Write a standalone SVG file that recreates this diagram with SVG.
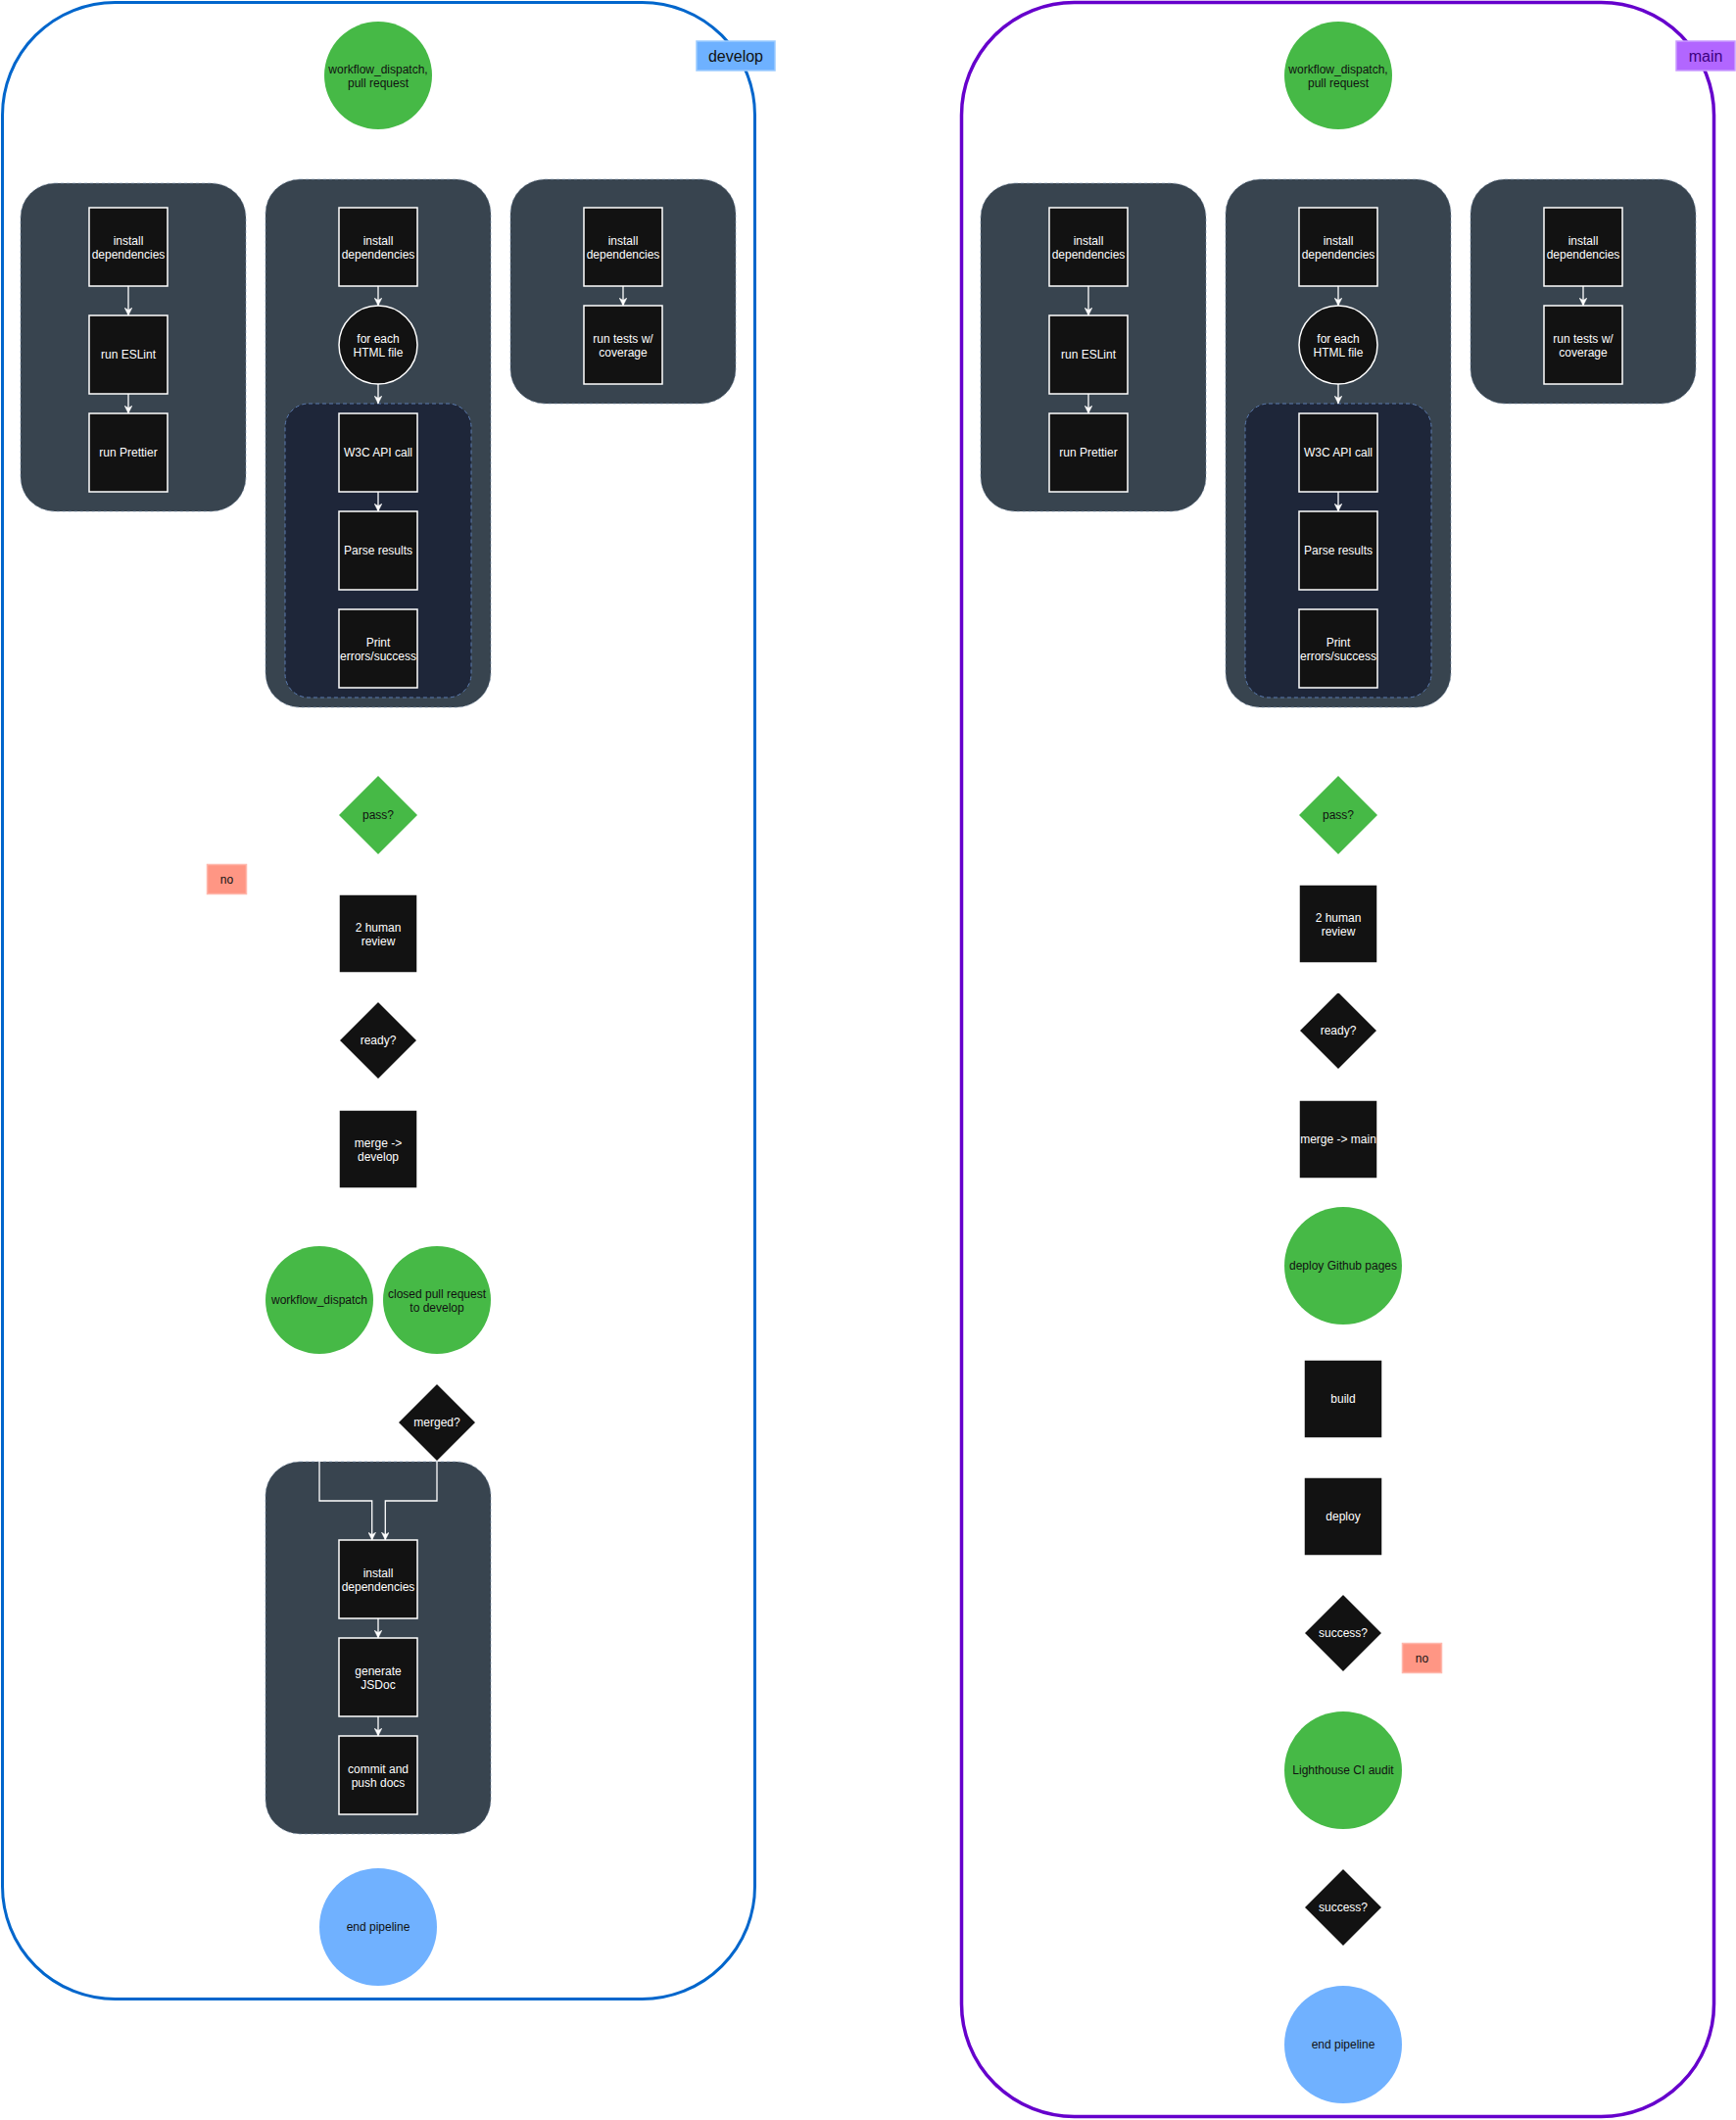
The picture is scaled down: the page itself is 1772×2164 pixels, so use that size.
<svg xmlns="http://www.w3.org/2000/svg" width="1772" height="2164" viewBox="0 0 1772 2164">
<style>
text{font-family:"Liberation Sans",Arial,Helvetica,sans-serif;font-size:12px;text-anchor:middle}
.tw{fill:#ffffff}
.tb{fill:#111111}
.box{fill:#121212;stroke:#ffffff;stroke-width:1.5}
.grp{fill:#38444F;stroke:#7d93ad;stroke-opacity:0.6;stroke-width:1;stroke-dasharray:3 3}
.inner{fill:#1E2639;stroke:#5b7bb0;stroke-width:1;stroke-dasharray:4 3}
.green{fill:#46B946}
.blue{fill:#70B1FF}
.no{fill:#FF9684;stroke:#FFB8AD;stroke-width:1.5}
.edge{fill:none;stroke:#ffffff;stroke-width:1.3;marker-end:url(#arr)}
.lbl{font-size:16px}
</style>
<defs>
<marker id="arr" viewBox="0 0 10 10" refX="10" refY="5" markerWidth="8" markerHeight="8" markerUnits="userSpaceOnUse" orient="auto">
<path d="M0,0 L10,5 L0,10 L3,5 z" fill="#ffffff" stroke="#ffffff" stroke-width="0.5"/>
</marker>
</defs>
<rect width="1772" height="2164" fill="#ffffff"/>

<!-- ===== DEVELOP ===== -->
<g id="develop-container">
<rect x="2.5" y="2.5" width="768" height="2038" rx="115" ry="115" fill="none" stroke="#0066CC" stroke-width="3"/>
</g>

<g id="dev-start">
<circle cx="386" cy="77" r="55" class="green"/>
<text class="tb" x="386" y="74.5">workflow_dispatch,</text>
<text class="tb" x="386" y="89">pull request</text>
</g>

<g id="dev-lint-group">
<rect x="21" y="187" width="230" height="335" rx="35" class="grp"/>
</g>
<g id="dev-lint-install"><rect x="91" y="212" width="80" height="80" class="box"/><text class="tw" x="131" y="249.5">install</text><text class="tw" x="131" y="264">dependencies</text></g>
<g id="dev-lint-eslint"><rect x="91" y="322" width="80" height="80" class="box"/><text class="tw" x="131" y="366">run ESLint</text></g>
<g id="dev-lint-prettier"><rect x="91" y="422" width="80" height="80" class="box"/><text class="tw" x="131" y="466">run Prettier</text></g>

<g id="dev-html-group">
<rect x="271" y="183" width="230" height="539" rx="35" class="grp"/>
</g>
<g id="dev-html-install"><rect x="346" y="212" width="80" height="80" class="box"/><text class="tw" x="386" y="249.5">install</text><text class="tw" x="386" y="264">dependencies</text></g>
<g id="dev-html-foreach"><circle cx="386" cy="352" r="40" class="box"/><text class="tw" x="386" y="349.5">for each</text><text class="tw" x="386" y="364">HTML file</text></g>
<g id="dev-html-loop"><rect x="291" y="412" width="190" height="300" rx="24" class="inner"/></g>
<g id="dev-html-w3c"><rect x="346" y="422" width="80" height="80" class="box"/><text class="tw" x="386" y="466">W3C API call</text></g>
<g id="dev-html-parse"><rect x="346" y="522" width="80" height="80" class="box"/><text class="tw" x="386" y="566">Parse results</text></g>
<g id="dev-html-print"><rect x="346" y="622" width="80" height="80" class="box"/><text class="tw" x="386" y="659.5">Print</text><text class="tw" x="386" y="674">errors/success</text></g>

<g id="dev-test-group">
<rect x="521" y="183" width="230" height="229" rx="35" class="grp"/>
</g>
<g id="dev-test-install"><rect x="596" y="212" width="80" height="80" class="box"/><text class="tw" x="636" y="249.5">install</text><text class="tw" x="636" y="264">dependencies</text></g>
<g id="dev-test-run"><rect x="596" y="312" width="80" height="80" class="box"/><text class="tw" x="636" y="349.5">run tests w/</text><text class="tw" x="636" y="364">coverage</text></g>

<g id="dev-pass"><polygon points="386,792 426,832 386,872 346,832" class="green"/><text class="tb" x="386" y="836">pass?</text></g>
<g id="dev-no"><rect x="211.5" y="882.5" width="40" height="30" class="no"/><text class="tb" x="231.5" y="901.5">no</text></g>
<g id="dev-review"><rect x="346" y="913" width="80" height="80" class="box"/><text class="tw" x="386" y="950.5">2 human</text><text class="tw" x="386" y="965">review</text></g>
<g id="dev-ready"><polygon points="386,1022 426,1062 386,1102 346,1062" class="box"/><text class="tw" x="386" y="1066">ready?</text></g>
<g id="dev-merge"><rect x="346" y="1133" width="80" height="80" class="box"/><text class="tw" x="386" y="1170.5">merge -&gt;</text><text class="tw" x="386" y="1185">develop</text></g>

<g id="dev-wd"><circle cx="326" cy="1327" r="55" class="green"/><text class="tb" x="326" y="1331">workflow_dispatch</text></g>
<g id="dev-closed"><circle cx="446" cy="1327" r="55" class="green"/><text class="tb" x="446" y="1324.5">closed pull request</text><text class="tb" x="446" y="1339">to develop</text></g>
<g id="dev-merged"><polygon points="446,1412 486,1452 446,1492 406,1452" class="box"/><text class="tw" x="446" y="1456">merged?</text></g>

<g id="dev-docs-group">
<rect x="271" y="1492" width="230" height="380" rx="35" class="grp"/>
</g>
<g id="dev-docs-install"><rect x="346" y="1572" width="80" height="80" class="box"/><text class="tw" x="386" y="1609.5">install</text><text class="tw" x="386" y="1624">dependencies</text></g>
<g id="dev-docs-jsdoc"><rect x="346" y="1672" width="80" height="80" class="box"/><text class="tw" x="386" y="1709.5">generate</text><text class="tw" x="386" y="1724">JSDoc</text></g>
<g id="dev-docs-push"><rect x="346" y="1772" width="80" height="80" class="box"/><text class="tw" x="386" y="1809.5">commit and</text><text class="tw" x="386" y="1824">push docs</text></g>

<g id="dev-end"><circle cx="386" cy="1967" r="60" class="blue"/><text class="tb" x="386" y="1971">end pipeline</text></g>

<g id="dev-label"><rect x="711" y="42" width="80" height="30" fill="#6EB1FF" stroke="#9CCBFF" stroke-width="1.5"/><text class="tb lbl" x="751" y="63">develop</text></g>

<!-- ===== MAIN ===== -->
<g id="main-container">
<rect x="981.5" y="2.5" width="768" height="2158" rx="115" ry="115" fill="none" stroke="#6600CC" stroke-width="3.5"/>
</g>

<g id="main-start">
<circle cx="1366" cy="77" r="55" class="green"/>
<text class="tb" x="1366" y="74.5">workflow_dispatch,</text>
<text class="tb" x="1366" y="89">pull request</text>
</g>

<g id="main-lint-group"><rect x="1001" y="187" width="230" height="335" rx="35" class="grp"/></g>
<g id="main-lint-install"><rect x="1071" y="212" width="80" height="80" class="box"/><text class="tw" x="1111" y="249.5">install</text><text class="tw" x="1111" y="264">dependencies</text></g>
<g id="main-lint-eslint"><rect x="1071" y="322" width="80" height="80" class="box"/><text class="tw" x="1111" y="366">run ESLint</text></g>
<g id="main-lint-prettier"><rect x="1071" y="422" width="80" height="80" class="box"/><text class="tw" x="1111" y="466">run Prettier</text></g>

<g id="main-html-group"><rect x="1251" y="183" width="230" height="539" rx="35" class="grp"/></g>
<g id="main-html-install"><rect x="1326" y="212" width="80" height="80" class="box"/><text class="tw" x="1366" y="249.5">install</text><text class="tw" x="1366" y="264">dependencies</text></g>
<g id="main-html-foreach"><circle cx="1366" cy="352" r="40" class="box"/><text class="tw" x="1366" y="349.5">for each</text><text class="tw" x="1366" y="364">HTML file</text></g>
<g id="main-html-loop"><rect x="1271" y="412" width="190" height="300" rx="24" class="inner"/></g>
<g id="main-html-w3c"><rect x="1326" y="422" width="80" height="80" class="box"/><text class="tw" x="1366" y="466">W3C API call</text></g>
<g id="main-html-parse"><rect x="1326" y="522" width="80" height="80" class="box"/><text class="tw" x="1366" y="566">Parse results</text></g>
<g id="main-html-print"><rect x="1326" y="622" width="80" height="80" class="box"/><text class="tw" x="1366" y="659.5">Print</text><text class="tw" x="1366" y="674">errors/success</text></g>

<g id="main-test-group"><rect x="1501" y="183" width="230" height="229" rx="35" class="grp"/></g>
<g id="main-test-install"><rect x="1576" y="212" width="80" height="80" class="box"/><text class="tw" x="1616" y="249.5">install</text><text class="tw" x="1616" y="264">dependencies</text></g>
<g id="main-test-run"><rect x="1576" y="312" width="80" height="80" class="box"/><text class="tw" x="1616" y="349.5">run tests w/</text><text class="tw" x="1616" y="364">coverage</text></g>

<g id="main-pass"><polygon points="1366,792 1406,832 1366,872 1326,832" class="green"/><text class="tb" x="1366" y="836">pass?</text></g>
<g id="main-review"><rect x="1326" y="903" width="80" height="80" class="box"/><text class="tw" x="1366" y="940.5">2 human</text><text class="tw" x="1366" y="955">review</text></g>
<g id="main-ready"><polygon points="1366,1012 1406,1052 1366,1092 1326,1052" class="box"/><text class="tw" x="1366" y="1056">ready?</text></g>
<g id="main-merge"><rect x="1326" y="1123" width="80" height="80" class="box"/><text class="tw" x="1366" y="1167">merge -&gt; main</text></g>
<g id="main-pages"><circle cx="1371" cy="1292" r="60" class="green"/><text class="tb" x="1371" y="1296">deploy Github pages</text></g>
<g id="main-build"><rect x="1331" y="1388" width="80" height="80" class="box"/><text class="tw" x="1371" y="1432">build</text></g>
<g id="main-deploy"><rect x="1331" y="1508" width="80" height="80" class="box"/><text class="tw" x="1371" y="1552">deploy</text></g>
<g id="main-success1"><polygon points="1371,1627 1411,1667 1371,1707 1331,1667" class="box"/><text class="tw" x="1371" y="1671">success?</text></g>
<g id="main-no"><rect x="1431.5" y="1677.5" width="40" height="30" class="no"/><text class="tb" x="1451.5" y="1696.5">no</text></g>
<g id="main-lighthouse"><circle cx="1371" cy="1807" r="60" class="green"/><text class="tb" x="1371" y="1811">Lighthouse CI audit</text></g>
<g id="main-success2"><polygon points="1371,1907 1411,1947 1371,1987 1331,1947" class="box"/><text class="tw" x="1371" y="1951">success?</text></g>
<g id="main-end"><circle cx="1371" cy="2087" r="60" class="blue"/><text class="tb" x="1371" y="2091">end pipeline</text></g>

<g id="main-label"><rect x="1711" y="42" width="60" height="30" fill="#B266FF" stroke="#C99BFF" stroke-width="1.5"/><text class="lbl" x="1741" y="63" fill="#3D0080">main</text></g>

<!-- ===== CONNECTORS ===== -->
<g id="connectors">
<path class="edge" d="M131,292 V322"/>
<path class="edge" d="M131,402 V422"/>
<path class="edge" d="M386,292 V312"/>
<path class="edge" d="M386,392 V412"/>
<path class="edge" d="M386,502 V522"/>
<path class="edge" d="M636,292 V312"/>
<path class="edge" d="M326,1382 V1532 H379.7 V1572"/>
<path class="edge" d="M446,1492 V1532 H393.3 V1572"/>
<path class="edge" d="M386,1652 V1672"/>
<path class="edge" d="M386,1752 V1772"/>
<path class="edge" d="M1111,292 V322"/>
<path class="edge" d="M1111,402 V422"/>
<path class="edge" d="M1366,292 V312"/>
<path class="edge" d="M1366,392 V412"/>
<path class="edge" d="M1366,502 V522"/>
<path class="edge" d="M1616,292 V312"/>
</g>
</svg>
